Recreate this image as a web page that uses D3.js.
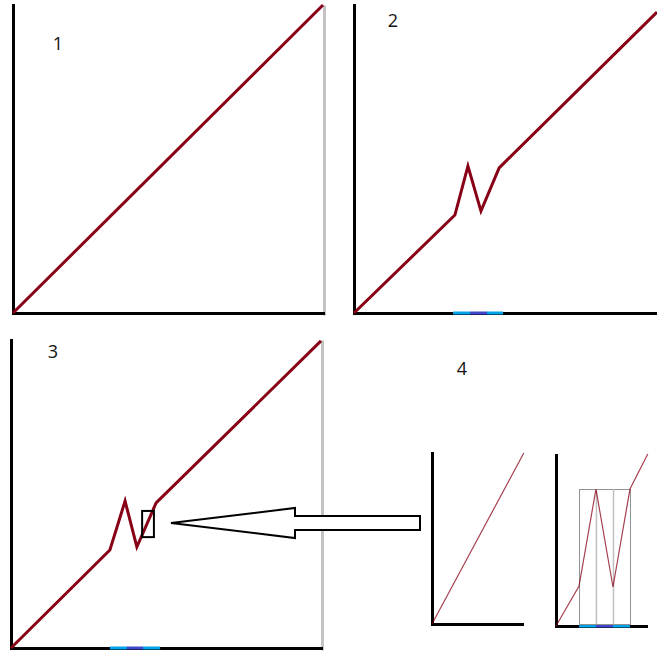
<!DOCTYPE html>
<html lang="en">
<head>
    <meta charset="UTF-8">
    <title>Glitch sketch</title>
    <script src="https://d3js.org/d3.v7.min.js"></script>
    <style>
        body, html { margin: 0; background: #fff; }
        svg { display: block; }
        .lbl { font-family: "Open Sans", sans-serif; font-size: 18px; fill: #111; }
    </style>
</head>
<body>
    <svg id="chart" width="657" height="654"></svg>
    <script>
        // data (each panel in its own units)
        var line1 = [[0, 0], [100, 100]];
        var line2 = [[0, 0], [33.3, 31.8], [37.6, 47.7], [41.9, 33.1], [47.9, 47.1], [48.5, 47.7], [100, 97.7]];
        var line3 = [[0, 0], [31.9, 31.8], [36.8, 47.7], [40.6, 32.8], [46.8, 47.1], [100, 99.7]];
        var band2 = [32.7, 38.3, 43.9, 49.2];
        var band3 = [31.9, 37.4, 42.6, 48.1];
        var bandColors = ["#00a2e8", "#3f48cc", "#00a2e8"];
        var box3 = [42.3, 46.1, 36.0, 44.5]; // x0, x1, y0, y1
        var line4a = [[0, 0], [10.2, 10]];
        var line4b = [[0, 0], [2.56, 2.34], [4.44, 8.01], [6.33, 2.28], [8.22, 8.01], [10.2, 10.06]];
        var grid4b = [2.56, 4.44, 6.33, 8.22];
        var gridTop = 8.01;
        var labels = ["1", "2", "3", "4"];

        var svg = d3.select("#chart");
        var red = "#880015";

        function makePanel(box, dom) {
            var x = d3.scaleLinear().domain([0, dom]).range([box.left, box.right]);
            var y = d3.scaleLinear().domain([0, dom]).range([box.bottom, box.top]);
            return { x: x, y: y, box: box };
        }

        function drawAxes(p, w) {
            svg.append("g").attr("transform", "translate(" + p.box.left + ",0)")
                .call(d3.axisLeft(p.y).ticks(0).tickSizeOuter(0))
                .select(".domain").attr("stroke", "#000").attr("stroke-width", w).attr("stroke-linecap", "square");
            svg.append("g").attr("transform", "translate(0," + p.box.bottom + ")")
                .call(d3.axisBottom(p.x).ticks(0).tickSizeOuter(0))
                .select(".domain").attr("stroke", "#000").attr("stroke-width", w).attr("stroke-linecap", "square");
        }

        function drawRightEdge(p, xPos, y0, y1) {
            var yy = d3.scaleLinear().range([y0, y1]);
            svg.append("g").attr("transform", "translate(" + xPos + ",0)")
                .call(d3.axisRight(yy).ticks(0).tickSizeOuter(0))
                .select(".domain").attr("stroke", "#c3c3c3").attr("stroke-width", 3);
        }

        function drawLine(p, pts, w, col, op) {
            var gen = d3.line().x(d => p.x(d[0])).y(d => p.y(d[1]));
            svg.append("path").attr("d", gen(pts))
                .attr("fill", "none").attr("stroke", col).attr("stroke-width", w)
                .attr("stroke-opacity", op).attr("stroke-linejoin", "miter");
        }

        function drawBands(p, edges, h) {
            svg.append("g").selectAll("rect").data(d3.pairs(edges)).join("rect")
                .attr("x", d => p.x(d[0]))
                .attr("y", p.box.bottom - h / 2)
                .attr("width", d => p.x(d[1]) - p.x(d[0]))
                .attr("height", h)
                .attr("fill", (d, i) => bandColors[i]);
        }

        var p1 = makePanel({ left: 13, right: 323, top: 5, bottom: 313 }, 100);
        var p2 = makePanel({ left: 354, right: 657, top: 5, bottom: 313 }, 100);
        var p3 = makePanel({ left: 11, right: 321, top: 340, bottom: 648 }, 100);
        var p4a = makePanel({ left: 432, right: 522, top: 453, bottom: 624 }, 10);
        var p4b = makePanel({ left: 556, right: 646, top: 455, bottom: 626 }, 10);

        // panel 1
        drawRightEdge(p1, 324, 5, 315);
        drawAxes(p1, 3);
        drawLine(p1, line1, 3, red, 1);

        // panel 2
        drawAxes(p2, 3);
        drawBands(p2, band2, 3);
        drawLine(p2, line2, 3, red, 1);

        // panel 3
        drawRightEdge(p3, 322, 340, 650);
        drawAxes(p3, 3);
        drawBands(p3, band3, 3);
        drawLine(p3, line3, 3, red, 1);
        svg.append("rect")
            .attr("x", p3.x(box3[0])).attr("y", p3.y(box3[3]))
            .attr("width", p3.x(box3[1]) - p3.x(box3[0]))
            .attr("height", p3.y(box3[2]) - p3.y(box3[3]))
            .attr("fill", "none").attr("stroke", "#000").attr("stroke-width", 2);

        // arrow pointing at the box
        var tip = [171, 523], head = 295, tail = 420;
        var arrow = [tip, [head, 508], [head, 516], [tail, 516], [tail, 530], [head, 530], [head, 538]];
        svg.append("path").attr("d", d3.line()(arrow) + "Z")
            .attr("fill", "#fff").attr("stroke", "#000").attr("stroke-width", 2);

        // panel 4: zoomed views
        drawAxes(p4a, 3);
        drawLine(p4a, line4a, 1.2, red, 0.75);

        drawAxes(p4b, 3);
        drawBands(p4b, grid4b, 3);
        svg.append("rect")
            .attr("x", p4b.x(grid4b[0]) + 0.5).attr("y", p4b.y(gridTop) + 0.5)
            .attr("width", p4b.x(grid4b[3]) - p4b.x(grid4b[0]))
            .attr("height", p4b.box.bottom - p4b.y(gridTop) - 2)
            .attr("fill", "none").attr("stroke", "#909090").attr("stroke-width", 1);
        svg.append("g").selectAll("line").data(grid4b.slice(1, 3)).join("line")
            .attr("x1", d => p4b.x(d) + 0.5).attr("x2", d => p4b.x(d) + 0.5)
            .attr("y1", p4b.y(gridTop)).attr("y2", p4b.box.bottom - 2)
            .attr("stroke", "#c0c0c0").attr("stroke-width", 1.5);
        drawLine(p4b, line4b, 1.2, red, 0.75);

        // labels
        var labelPos = [[58, 50], [393, 27], [53, 358], [462, 375]];
        svg.append("g").selectAll("text").data(labels).join("text")
            .attr("class", "lbl")
            .attr("x", (d, i) => labelPos[i][0])
            .attr("y", (d, i) => labelPos[i][1])
            .attr("text-anchor", "middle")
            .text(d => d);
    </script>
</body>
</html>
